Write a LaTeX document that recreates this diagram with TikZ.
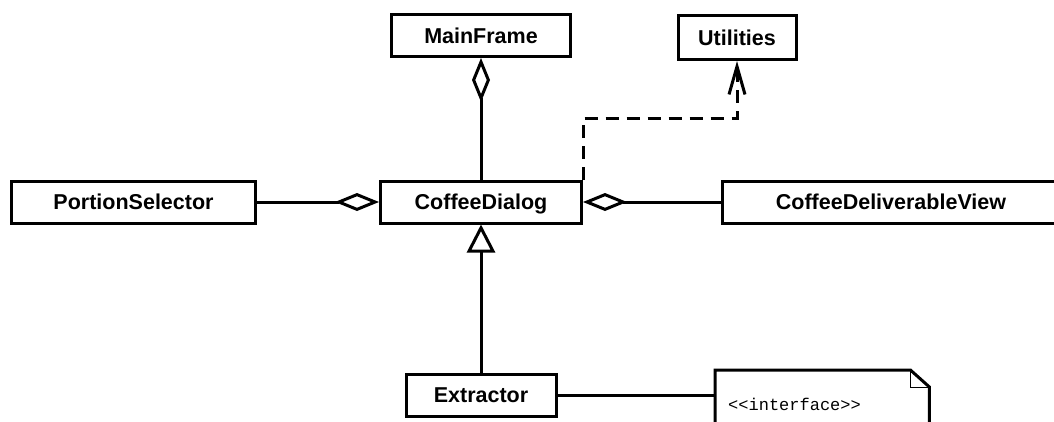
\documentclass[tikz,border=0pt]{standalone}
\usepackage{fontspec}
\setmainfont{Liberation Sans}
\setmonofont{Liberation Mono}
\usetikzlibrary{arrows.meta}

\begin{document}
\begin{tikzpicture}[x=1pt,y=-1pt,
    classe/.style={draw, line width=3pt, minimum height=42pt, inner sep=0pt,
        text height=15.5pt, text depth=-2pt, font=\fontsize{21.5}{24}\selectfont\bfseries},
    lien/.style={line width=3pt},
    agreg/.style={lien, -{Diamond[open, length=44pt, width=18pt]}},
    herit/.style={lien, -{Triangle[open, length=28pt, width=28pt]}},
    dep/.style={lien, dash pattern=on 13pt off 8pt, -{Straight Barb[length=28pt, width=16pt]}}]
        % Cadre de l'image
        \useasboundingbox (0,0) rectangle (1054,421);

        % Les classes
        \node[classe, minimum width=179pt] (mainframe) at (481,35.5) {MainFrame};
        \node[classe, minimum width=118pt, minimum height=44pt] (utilities) at (737,37.5) {Utilities};
        \node[classe, minimum width=244pt] (portion) at (133.5,202) {PortionSelector};
        \node[classe, minimum width=201pt] (dialog) at (481,202) {CoffeeDialog};
        \node[classe, minimum width=337pt] (cdv) at (891,202) {CoffeeDeliverableView};
        \node[classe, minimum width=150pt] (extractor) at (481,395) {Extractor};

        % La note
        \node[minimum width=214pt, minimum height=90pt, anchor=north west] (note) at (715,370) {};
        \draw[lien] (note.south west) -- (note.north west) -- ([xshift=-19pt]note.north east)
            -- ([yshift=-17pt]note.north east) -- (note.south east);
        \draw[line width=1pt] ([xshift=-19pt]note.north east) |- ([yshift=-17pt]note.north east);
        \node[anchor=base west, inner sep=0pt, font=\ttfamily\fontsize{17}{20}\selectfont] (stereo) at (728,410) {<<interface>>};

        % Agregations
        \draw[agreg] (dialog.north) -- (mainframe.south);
        \draw[agreg] (portion.east) -- (dialog.west);
        \draw[agreg] (cdv.west) -- (dialog.east);

        % Heritage
        \draw[herit] (extractor.north) -- (dialog.south);

        % Dependance en pointilles
        \coordinate (coude) at (737,118);
        \draw[dep] (dialog.north east) |- (coude) -- (utilities.south);

        % Lien vers la note
        \draw[lien] (extractor.east) -- (extractor.east -| note.west);
    \end{tikzpicture}
\end{document}
